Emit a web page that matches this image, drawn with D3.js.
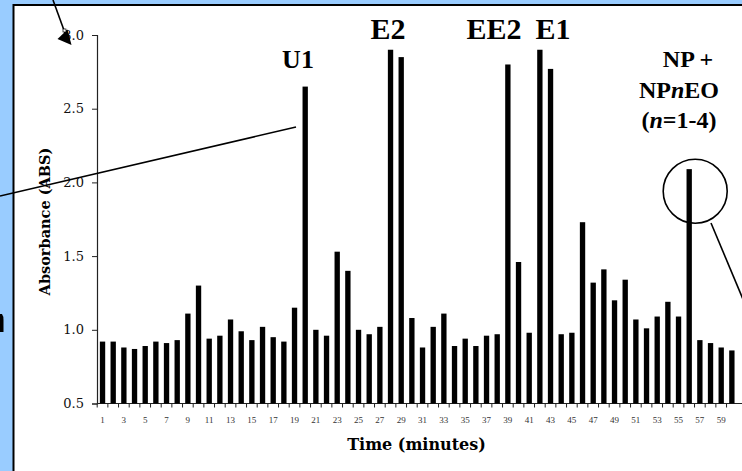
<!DOCTYPE html>
<html lang="en">
<head>
  <meta charset="UTF-8" />
  <title>Absorbance by retention time</title>
  <script src="https://d3js.org/d3.v7.min.js"></script>
  <style>
    body {
      margin: 0;
      background: #99ccff;
    }
    svg {
      display: block;
    }
  </style>
</head>
<body>

<svg width="742" height="471"></svg>

<script>
  const minutes = [
    1, 2, 3, 4, 5, 6, 7, 8, 9, 10, 11, 12, 13, 14, 15, 16, 17, 18, 19, 20,
    21, 22, 23, 24, 25, 26, 27, 28, 29, 30, 31, 32, 33, 34, 35, 36, 37, 38, 39, 40,
    41, 42, 43, 44, 45, 46, 47, 48, 49, 50, 51, 52, 53, 54, 55, 56, 57, 58, 59, 60
  ];
  const absorbance = [
    0.92, 0.92, 0.88, 0.87, 0.89, 0.92, 0.91, 0.93, 1.11, 1.30,
    0.94, 0.96, 1.07, 0.99, 0.93, 1.02, 0.95, 0.92, 1.15, 2.65,
    1.00, 0.96, 1.53, 1.40, 1.00, 0.97, 1.02, 2.90, 2.85, 1.08,
    0.88, 1.02, 1.11, 0.89, 0.94, 0.89, 0.96, 0.97, 2.80, 1.46,
    0.98, 2.90, 2.77, 0.97, 0.98, 1.73, 1.32, 1.41, 1.20, 1.34,
    1.07, 1.01, 1.09, 1.19, 1.09, 2.09, 0.93, 0.91, 0.88, 0.86
  ];
  const xTickLabels = [1, 3, 5, 7, 9, 11, 13, 15, 17, 19, 21, 23, 25, 27, 29,
    31, 33, 35, 37, 39, 41, 43, 45, 47, 49, 51, 53, 55, 57, 59];
  const yTicks = [0.5, 1.0, 1.5, 2.0, 2.5, 3.0];

  const data = minutes.map((m, i) => ({ minute: m, value: absorbance[i] }));

  const svg = d3.select("svg");
  const serif = "'DejaVu Serif', serif";
  const times = "'Liberation Serif', 'Times New Roman', serif";

  // white panel with black frame
  svg.append("rect")
    .attr("x", 13.5).attr("y", 5)
    .attr("width", 760).attr("height", 500)
    .attr("fill", "white")
    .attr("stroke", "black")
    .attr("stroke-width", 2);

  // bit of a shape cut off at the left edge
  svg.append("path")
    .attr("d", "M0,314 L2,314 Q3.5,316 3.5,320 L3.5,332 L0,332 Z")
    .attr("fill", "black");

  const xScale = d3.scaleBand()
    .domain(minutes)
    .range([97.2, 737.2])
    .paddingInner(0.5)
    .paddingOuter(0.25);

  const yScale = d3.scaleLinear()
    .domain([0.5, 3.0])
    .range([403.5, 35]);

  const g = svg.append("g");

  // Y axis
  const yAxis = g.append("g")
    .attr("transform", "translate(97,0)")
    .call(d3.axisLeft(yScale).tickValues(yTicks).tickFormat(d3.format(".1f")).tickSize(5).tickPadding(8));
  yAxis.select(".domain").attr("stroke", "#222").attr("stroke-width", 1.2);
  yAxis.selectAll(".tick line").attr("stroke", "#222");
  yAxis.selectAll("text")
    .attr("font-family", serif)
    .attr("font-size", 13)
    .attr("fill", "#111");

  // X axis: ticks at band edges, labels on odd minutes
  const xAxisG = g.append("g").attr("transform", "translate(0,403.5)");
  xAxisG.append("line")
    .attr("x1", 97).attr("x2", 742)
    .attr("stroke", "#222").attr("stroke-width", 1.2);
  xAxisG.selectAll("line.edge")
    .data(minutes)
    .enter()
    .append("line")
    .attr("class", "edge")
    .attr("x1", d => xScale(d) - xScale.step() * 0.25)
    .attr("x2", d => xScale(d) - xScale.step() * 0.25)
    .attr("y1", 0).attr("y2", 4)
    .attr("stroke", "#222");
  xAxisG.selectAll("text")
    .data(xTickLabels)
    .enter()
    .append("text")
    .attr("x", d => xScale(d) + xScale.bandwidth() / 2)
    .attr("y", 19)
    .attr("text-anchor", "middle")
    .attr("font-family", times)
    .attr("font-size", 9)
    .attr("fill", "#333")
    .text(d => d);

  // Bars
  g.selectAll("rect.bar")
    .data(data)
    .enter()
    .append("rect")
    .attr("class", "bar")
    .attr("x", d => xScale(d.minute))
    .attr("y", d => yScale(d.value))
    .attr("width", xScale.bandwidth())
    .attr("height", d => yScale(0.5) - yScale(d.value))
    .attr("fill", "black");

  // Axis titles
  svg.append("text")
    .attr("transform", "translate(44,221.5) rotate(-90)")
    .attr("text-anchor", "middle")
    .attr("dominant-baseline", "central")
    .attr("font-family", serif)
    .attr("font-weight", "bold")
    .attr("font-size", 14.5)
    .text("Absorbance (ABS)");

  svg.append("text")
    .attr("x", 416.5).attr("y", 450)
    .attr("text-anchor", "middle")
    .attr("font-family", serif)
    .attr("font-weight", "bold")
    .attr("font-size", 16)
    .text("Time (minutes)");

  // Peak labels
  const ann = svg.append("g")
    .attr("font-family", times)
    .attr("font-weight", "bold")
    .attr("text-anchor", "middle");

  ann.append("text").attr("x", 298).attr("y", 68).attr("font-size", 26).text("U1");
  ann.append("text").attr("x", 388).attr("y", 39).attr("font-size", 30).text("E2");
  ann.append("text").attr("x", 494).attr("y", 39).attr("font-size", 30).text("EE2");
  ann.append("text").attr("x", 553).attr("y", 39).attr("font-size", 30).text("E1");

  ann.append("text").attr("x", 688).attr("y", 67).attr("font-size", 24).text("NP +");
  const np = ann.append("text").attr("x", 679).attr("y", 98).attr("font-size", 24);
  np.append("tspan").text("NP");
  np.append("tspan").attr("font-style", "italic").text("n");
  np.append("tspan").text("EO");
  const nn = ann.append("text").attr("x", 679).attr("y", 128).attr("font-size", 24);
  nn.append("tspan").text("(");
  nn.append("tspan").attr("font-style", "italic").text("n");
  nn.append("tspan").text("=1-4)");

  // Callout lines and circle
  const callouts = svg.append("g")
    .attr("stroke", "black")
    .attr("stroke-width", 1.6)
    .attr("fill", "none");

  callouts.append("line").attr("x1", 0).attr("y1", 196).attr("x2", 296).attr("y2", 127);
  callouts.append("circle")
    .attr("cx", xScale(56) + xScale.bandwidth() / 2 + 6)
    .attr("cy", yScale(1.94))
    .attr("r", 32);
  callouts.append("line").attr("x1", 711).attr("y1", 223).attr("x2", 745).attr("y2", 304);

  // Arrow at top left
  callouts.append("line").attr("x1", 53).attr("y1", 0).attr("x2", 65).attr("y2", 33);
  svg.append("polygon")
    .attr("points", "71.5,45 57.5,39 67.5,29.5")
    .attr("fill", "black");
  svg.append("rect")
    .attr("x", 63).attr("y", 29).attr("width", 3).attr("height", 3)
    .attr("fill", "white").attr("stroke", "black").attr("stroke-width", 0.7);
</script>

</body>
</html>
